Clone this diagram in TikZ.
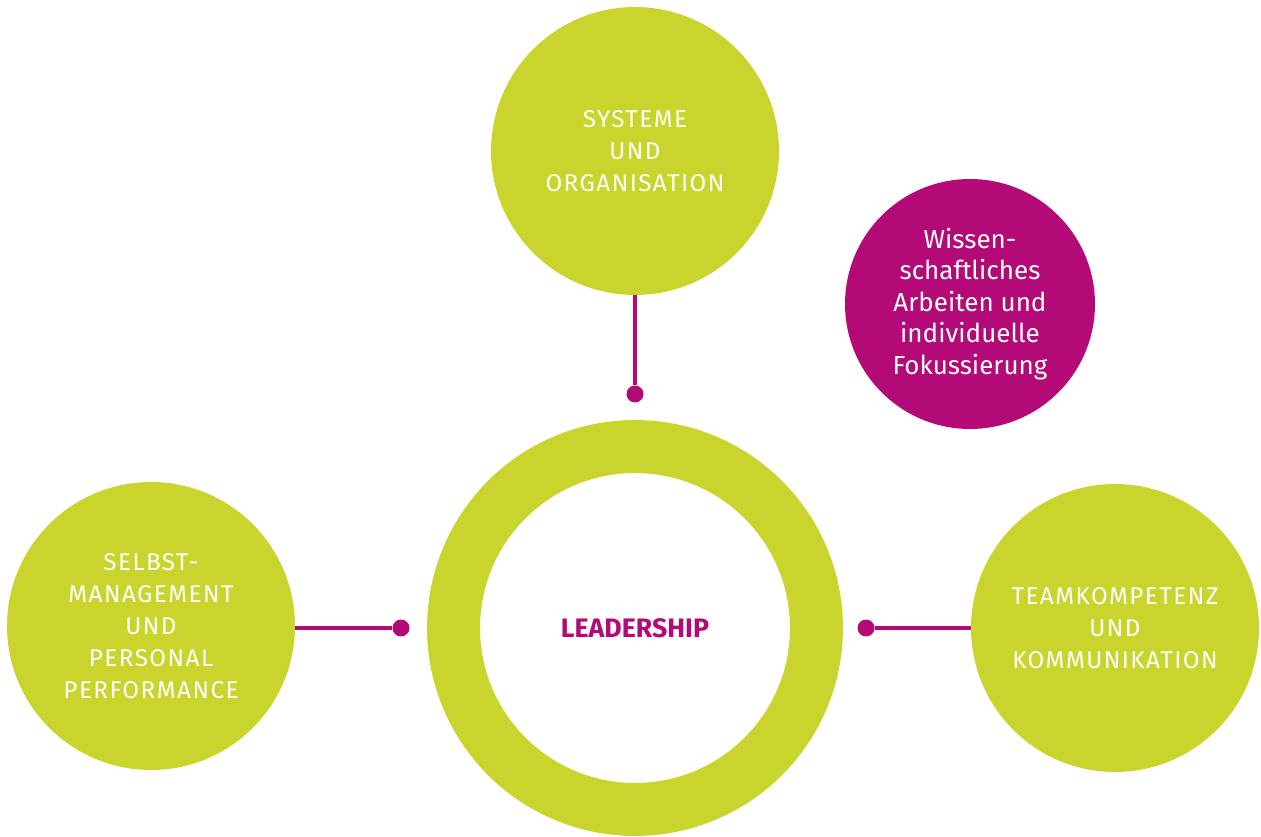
\documentclass[tikz,border=0pt]{standalone}
\usepackage{fontspec}
\setmainfont{Fira Sans}
\newfontfamily\capsfont[LetterSpace=6]{Fira Sans}
\newfontfamily\lightfont{Fira Sans}
\usetikzlibrary{positioning}

\definecolor{lime}{HTML}{C9D42C}
\definecolor{berry}{HTML}{B30A78}

\tikzset{
  topic/.style={circle, fill=lime, minimum size=5.76cm, inner sep=0pt,
    text=white, align=center, font=\capsfont\fontsize{13.8}{18.2}\selectfont},
  focus/.style={circle, fill=berry, minimum size=5cm, inner sep=0pt,
    text=white, align=center, font=\lightfont\fontsize{14.8}{18}\selectfont},
  hub/.style={circle, draw=lime, line width=1.06cm, minimum size=7.26cm,
    inner sep=0pt, text=berry, font=\bfseries\fontsize{15.2}{16}\selectfont},
  pin/.style={circle, fill=berry, minimum size=0.34cm, inner sep=0pt},
  link/.style={berry, line width=1.8pt}
}

\begin{document}
\begin{tikzpicture}[x=0.02cm, y=-0.02cm]
            \useasboundingbox (0,0) rectangle (1261,837);

            % Centre ring
            \node[hub] (lead) at (635,628) {LEADERSHIP};

            % Green topics
            \node[topic] (sys) at (635,151) {SYSTEME\\UND\\ORGANISATION};
            \node[topic] (self) at (151,626) {SELBST-\\MANAGEMENT\\UND\\PERSONAL\\PERFORMANCE};
            \node[topic] (team) at (1115,628) {TEAMKOMPETENZ\\UND\\KOMMUNIKATION};

            % Magenta topic
            \node[focus] (wiss) at (970,304) {Wissen-\\schaftliches\\Arbeiten und\\individuelle\\Fokussierung};

            % Pins
            \node[pin] (psys) at (635,394) {};
            \node[pin] (pself) at (401,628) {};
            \node[pin] (pteam) at (866,628) {};

            % Links
            \draw[link] (sys.south) -- (psys);
            \draw[link] (self.east |- pself) -- (pself);
            \draw[link] (pteam) -- (team.west |- pteam);

        \end{tikzpicture}
\end{document}
